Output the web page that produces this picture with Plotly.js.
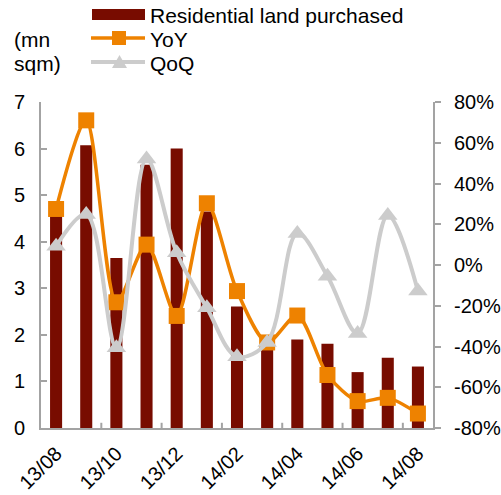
<!DOCTYPE html>
<html>
<head>
<meta charset="utf-8">
<script src="https://cdn.plot.ly/plotly-3.0.1.min.js"></script>
<style>
  html, body { margin: 0; padding: 0; background: #fff; }
  #chart { width: 501px; height: 495px; }
</style>
</head>
<body>
<div id="chart"></div>
<script>
// Monthly residential land purchases with growth rates
const months = ['13/08', '13/09', '13/10', '13/11', '13/12', '14/01', '14/02',
                '14/03', '14/04', '14/05', '14/06', '14/07', '14/08'];
const landPurchased = [4.6, 6.07, 3.65, 5.65, 6.0, 4.65, 2.61, 1.75, 1.9, 1.81, 1.2, 1.51, 1.32]; // mn sqm
const yoy = [27.5, 71, -18.3, 10, -25, 30.3, -12.8, -38, -24.8, -54, -66.8, -65.2, -72.9];       // %
const qoq = [9.2, 24.8, -40.6, 52, 6, -21, -45, -38, 15.5, -5.5, -33.6, 24.3, -12.8];            // %
const labelledMonths = ['13/08', '13/10', '13/12', '14/02', '14/04', '14/06', '14/08'];
const leftTicks = [0, 1, 2, 3, 4, 5, 6, 7];
const rightTicks = [-80, -60, -40, -20, 0, 20, 40, 60, 80];
const rightTickText = ['-80%', '-60%', '-40%', '-20%', '0%', '20%', '40%', '60%', '80%'];

const names = ['Residential land purchased', 'YoY', 'QoQ'];

const BAR = '#780c00';
const ORANGE = '#ee8200';
const GREY = '#cccccc';
const AXIS = '#a3a3a3';
const FONT = 'Liberation Sans, Arial, sans-serif';
const FS = 21;      // legend and unit text
const TICK_FS = 20; // axis tick labels

const traces = [
  {
    type: 'bar', name: names[0], x: months, y: landPurchased,
    marker: { color: BAR }, width: 0.4, hoverinfo: 'skip'
  },
  {
    type: 'scatter', mode: 'lines+markers', name: names[1], x: months, y: yoy, yaxis: 'y2',
    line: { color: ORANGE, width: 3.5, shape: 'spline', smoothing: 0.8 },
    marker: { symbol: 'square', size: 16, color: ORANGE }
  },
  {
    type: 'scatter', mode: 'lines+markers', name: names[2], x: months, y: qoq, yaxis: 'y2',
    line: { color: GREY, width: 4, shape: 'spline', smoothing: 1 },
    marker: { symbol: 'triangle-up', size: 17, color: GREY }
  }
];

// tick marks sitting between every second pair of months
const shapes = [];
for (let k = 1.5; k < months.length; k += 2) {
  shapes.push({
    type: 'line', xref: 'x', yref: 'paper', x0: k, x1: k, y0: 0, y1: 0.016,
    line: { color: AXIS, width: 2 }
  });
}

// legend drawn by hand: wide bar swatch and line swatches with centred markers
const px = (v) => v - 41;     // page x -> pixels from plot left
const py = (v) => 102 - v;    // page y -> pixels above plot top
shapes.push({ type: 'rect', xref: 'paper', yref: 'paper', xsizemode: 'pixel', ysizemode: 'pixel',
  xanchor: 0, yanchor: 1, x0: px(92), x1: px(145), y0: py(9), y1: py(20),
  fillcolor: BAR, line: { width: 0 } });
shapes.push({ type: 'line', xref: 'paper', yref: 'paper', xsizemode: 'pixel', ysizemode: 'pixel',
  xanchor: 0, yanchor: 1, x0: px(91), x1: px(145), y0: py(38), y1: py(38),
  line: { color: ORANGE, width: 3.5 } });
shapes.push({ type: 'rect', xref: 'paper', yref: 'paper', xsizemode: 'pixel', ysizemode: 'pixel',
  xanchor: 0, yanchor: 1, x0: px(112), x1: px(126), y0: py(31), y1: py(45),
  fillcolor: ORANGE, line: { width: 0 } });
shapes.push({ type: 'line', xref: 'paper', yref: 'paper', xsizemode: 'pixel', ysizemode: 'pixel',
  xanchor: 0, yanchor: 1, x0: px(91), x1: px(145), y0: py(62), y1: py(62),
  line: { color: GREY, width: 4 } });
shapes.push({ type: 'path', xref: 'paper', yref: 'paper', xsizemode: 'pixel', ysizemode: 'pixel',
  xanchor: 0, yanchor: 1,
  path: 'M' + px(112) + ',' + py(68) + ' L' + px(127) + ',' + py(68) +
        ' L' + px(119.5) + ',' + py(55) + ' Z',
  fillcolor: GREY, line: { width: 0 } });

const textAt = (txt, x, y) => ({
  text: txt, xref: 'paper', yref: 'paper', x: px(x) / 392, y: 1 + py(y) / 326,
  xanchor: 'left', yanchor: 'middle', showarrow: false,
  font: { family: FONT, size: FS, color: '#000' }
});

const annotations = [
  textAt(names[0], 148, 16),
  textAt(names[1], 148, 40),
  textAt(names[2], 148, 63),
  textAt('(mn', 12, 40),
  textAt('sqm)', 12, 63)
];

const layout = {
  width: 501, height: 495,
  margin: { l: 41, r: 68, t: 102, b: 67, pad: 0 },
  paper_bgcolor: '#fff', plot_bgcolor: '#fff',
  showlegend: false,
  font: { family: FONT, size: TICK_FS, color: '#000' },
  bargap: 0.6,
  xaxis: {
    type: 'category', range: [-0.5, months.length - 0.5],
    tickmode: 'array', tickvals: labelledMonths, ticktext: labelledMonths,
    tickangle: -45, ticks: '', showgrid: false, zeroline: false,
    showline: true, linecolor: AXIS, linewidth: 2, ticklabelstandoff: 4,
    tickfont: { family: FONT, size: TICK_FS, color: '#000' }, fixedrange: true
  },
  yaxis: {
    range: [0, 7], tickmode: 'array', tickvals: leftTicks,
    ticks: 'inside', ticklen: 6, tickwidth: 2, tickcolor: AXIS,
    showline: true, linecolor: AXIS, linewidth: 2,
    showgrid: false, zeroline: false, ticklabelstandoff: 10,
    tickfont: { family: FONT, size: TICK_FS, color: '#000' }
  },
  yaxis2: {
    overlaying: 'y', side: 'right', range: [-80, 80],
    tickmode: 'array', tickvals: rightTicks, ticktext: rightTickText,
    ticks: 'outside', ticklen: 6, tickwidth: 2, tickcolor: AXIS,
    showline: true, linecolor: AXIS, linewidth: 2,
    showgrid: false, zeroline: false, ticklabelstandoff: 9,
    tickfont: { family: FONT, size: TICK_FS, color: '#000' }
  },
  shapes: shapes,
  annotations: annotations
};

Plotly.newPlot('chart', traces, layout, { displayModeBar: false, staticPlot: true });
</script>
</body>
</html>
